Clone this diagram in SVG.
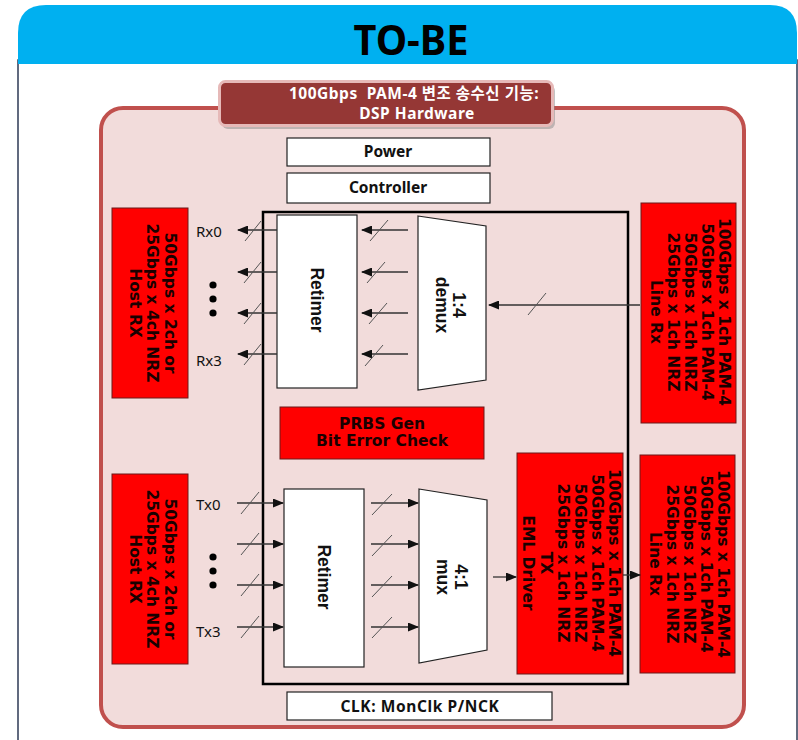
<svg xmlns="http://www.w3.org/2000/svg" width="798" height="740" viewBox="0 0 798 740">
<defs>
<marker id="ah" markerUnits="userSpaceOnUse" markerWidth="11" markerHeight="9" refX="10" refY="4.5" orient="auto">
<path d="M0,0 L11,4.5 L0,9 z" fill="#111"/>
</marker>
<style>
.ln{stroke:#333;stroke-width:1.3;fill:none;marker-end:url(#ah)}
.sl{stroke:#555;stroke-width:1;fill:none}
.red{fill:#ff0000;stroke:#6b1a1a;stroke-width:1}
.wb{fill:#fff;stroke:#222;stroke-width:1.2}
.rt{font-family:"DejaVu Sans",sans-serif;font-weight:bold;font-size:15.5px;fill:#1a0000;text-anchor:middle;dominant-baseline:central}
.ar{font-family:"Liberation Sans",Arial,sans-serif;font-weight:bold;font-size:17.5px;fill:#111;text-anchor:middle;dominant-baseline:central}
.lb{font-family:"Noto Sans",sans-serif;font-size:15px;fill:#111}
.bx{font-family:"Noto Sans",sans-serif;font-weight:bold;font-size:15.5px;fill:#111;text-anchor:middle}
.tt{font-family:"Noto Sans","Noto Sans CJK KR",sans-serif;font-weight:bold;font-size:15.5px;letter-spacing:0.5px;fill:#fff;text-anchor:middle}
</style>
</defs>
<g id="frame">
<rect x="18" y="60" width="779" height="690" fill="#fff" stroke="#2e3a55" stroke-width="1.5"/>
<path d="M18,64 L18,33 Q18,5 46,5 L770,5 Q797,5 797,33 L797,64 Z" fill="#00b0f0"/>
<text x="411" y="55" font-family="Noto Sans, sans-serif" font-weight="bold" font-size="42" fill="#000" text-anchor="middle" textLength="115" lengthAdjust="spacingAndGlyphs">TO-BE</text>
</g>
<g id="panel">
<rect x="101" y="108" width="643" height="619" rx="22" fill="#f2dcdb" stroke="#c0504d" stroke-width="4"/>
</g>
<g id="title">
<rect x="222" y="85" width="333" height="44" rx="6" fill="#8a8a8a" opacity="0.5"/>
<rect x="219.5" y="81.5" width="333" height="44" rx="6" fill="#953735" stroke="#e6b9b8" stroke-width="3"/>
<text class="tt" x="414" y="99" xml:space="preserve">100Gbps  PAM-4 변조 송수신 기능:</text>
<text class="tt" x="417" y="119">DSP Hardware</text>
</g>
<g id="power">
<rect class="wb" x="287" y="138" width="203" height="28"/>
<text class="bx" x="388" y="157">Power</text>
</g>
<g id="controller">
<rect class="wb" x="287" y="173" width="203" height="30"/>
<text class="bx" x="388" y="193">Controller</text>
</g>
<g id="dsp">
<rect x="263" y="212" width="365" height="472" fill="none" stroke="#000" stroke-width="2.5"/>
</g>
<g id="host-rx-top">
<rect class="red" x="112" y="208" width="76" height="190"/>
<text class="rt" font-size="16" transform="translate(152,303) rotate(90)"><tspan x="0" y="-18">50Gbps x 2ch or</tspan><tspan x="0" y="0">25Gbps x 4ch NRZ</tspan><tspan x="0" y="17">Host RX</tspan></text>
</g>
<g id="host-rx-bottom">
<rect class="red" x="112" y="474" width="76" height="190"/>
<text class="rt" font-size="16" transform="translate(152,569) rotate(90)"><tspan x="0" y="-18">50Gbps x 2ch or</tspan><tspan x="0" y="0">25Gbps x 4ch NRZ</tspan><tspan x="0" y="17">Host RX</tspan></text>
</g>
<g id="retimer-top">
<rect class="wb" x="277" y="215" width="80" height="173"/>
<text class="ar" transform="translate(317,300) rotate(90)">Retimer</text>
</g>
<g id="demux">
<path class="wb" d="M418,216 L486,226 L486,380 L418,390 Z"/>
<text class="ar" transform="translate(451,305) rotate(90)"><tspan x="0" y="-8">1:4</tspan><tspan x="0" y="9">demux</tspan></text>
</g>
<g id="line-rx-top">
<rect class="red" x="641" y="203" width="95" height="220"/>
<text class="rt" transform="translate(690,312) rotate(90)"><tspan x="0" y="-34">100Gbps x 1ch PAM-4</tspan><tspan x="0" y="-17">50Gbps x 1ch PAM-4</tspan><tspan x="0" y="0">50Gbps x 1ch NRZ</tspan><tspan x="0" y="17">25Gbps x 1ch NRZ</tspan><tspan x="0" y="34">Line Rx</tspan></text>
</g>
<g id="prbs">
<rect class="red" x="280" y="407" width="204" height="52"/>
<text class="rt" x="382" y="424">PRBS Gen</text>
<text class="rt" x="382" y="441">Bit Error Check</text>
</g>
<g id="retimer-bottom">
<rect class="wb" x="284" y="489" width="80" height="178"/>
<text class="ar" transform="translate(324,577) rotate(90)">Retimer</text>
</g>
<g id="mux">
<path class="wb" d="M419,489 L487,500 L487,650 L419,663 Z"/>
<text class="ar" transform="translate(452,577) rotate(90)"><tspan x="0" y="-9">4:1</tspan><tspan x="0" y="9">mux</tspan></text>
</g>
<g id="eml-driver">
<rect class="red" x="517" y="453" width="106" height="221"/>
<text class="rt" transform="translate(571,563) rotate(90)"><tspan x="0" y="-43">100Gbps x 1ch PAM-4</tspan><tspan x="0" y="-26">50Gbps x 1ch PAM-4</tspan><tspan x="0" y="-9">50Gbps x 1ch NRZ</tspan><tspan x="0" y="8">25Gbps x 1ch NRZ</tspan><tspan x="0" y="25">TX</tspan><tspan x="0" y="43">EML Driver</tspan></text>
</g>
<g id="line-rx-bottom">
<rect class="red" x="640" y="455" width="95" height="218"/>
<text class="rt" transform="translate(689,564) rotate(90)"><tspan x="0" y="-34">100Gbps x 1ch PAM-4</tspan><tspan x="0" y="-17">50Gbps x 1ch PAM-4</tspan><tspan x="0" y="0">50Gbps x 1ch NRZ</tspan><tspan x="0" y="17">25Gbps x 1ch NRZ</tspan><tspan x="0" y="34">Line Rx</tspan></text>
</g>
<g id="clk">
<rect class="wb" x="287" y="692" width="265" height="28"/>
<text class="bx" x="420" y="712" letter-spacing="0.6">CLK: MonClk P/NCK</text>
</g>
<g id="labels">
<text class="lb" x="196" y="237">Rx0</text>
<text class="lb" x="196" y="366">Rx3</text>
<text class="lb" x="196" y="510">Tx0</text>
<text class="lb" x="196" y="637">Tx3</text>
<circle cx="213" cy="285" r="3.6"/>
<circle cx="213" cy="299" r="3.6"/>
<circle cx="213" cy="313" r="3.6"/>
<circle cx="213" cy="557" r="3.6"/>
<circle cx="213" cy="571" r="3.6"/>
<circle cx="213" cy="585" r="3.6"/>
</g>
<g id="connectors">
<line class="ln" x1="277" y1="230" x2="238" y2="230"/>
<line class="ln" x1="277" y1="272" x2="238" y2="272"/>
<line class="ln" x1="277" y1="313" x2="238" y2="313"/>
<line class="ln" x1="277" y1="354" x2="238" y2="354"/>
<line class="sl" x1="245" y1="241" x2="261" y2="221"/>
<line class="sl" x1="244" y1="283" x2="261" y2="262"/>
<line class="sl" x1="244" y1="324" x2="261" y2="303"/>
<line class="sl" x1="244" y1="365" x2="261" y2="344"/>
<line class="ln" x1="408" y1="230" x2="362" y2="230"/>
<line class="ln" x1="408" y1="272" x2="362" y2="272"/>
<line class="ln" x1="408" y1="313" x2="362" y2="313"/>
<line class="ln" x1="408" y1="354" x2="362" y2="354"/>
<line class="sl" x1="370" y1="241" x2="388" y2="220"/>
<line class="sl" x1="367" y1="283" x2="385" y2="262"/>
<line class="sl" x1="369" y1="324" x2="387" y2="303"/>
<line class="sl" x1="365" y1="366" x2="383" y2="345"/>
<line class="ln" x1="640" y1="305" x2="489" y2="305"/>
<line class="sl" x1="528" y1="315" x2="546" y2="293"/>
<line class="ln" x1="237" y1="503" x2="283" y2="503"/>
<line class="ln" x1="237" y1="544" x2="283" y2="544"/>
<line class="ln" x1="237" y1="585" x2="283" y2="585"/>
<line class="ln" x1="237" y1="627" x2="283" y2="627"/>
<line class="sl" x1="241" y1="514" x2="259" y2="492"/>
<line class="sl" x1="241" y1="555" x2="259" y2="533"/>
<line class="sl" x1="241" y1="596" x2="259" y2="574"/>
<line class="sl" x1="241" y1="638" x2="259" y2="616"/>
<line class="ln" x1="371" y1="503" x2="418" y2="503"/>
<line class="ln" x1="371" y1="544" x2="418" y2="544"/>
<line class="ln" x1="371" y1="585" x2="418" y2="585"/>
<line class="ln" x1="371" y1="627" x2="418" y2="627"/>
<line class="sl" x1="372" y1="515" x2="392" y2="494"/>
<line class="sl" x1="372" y1="556" x2="392" y2="535"/>
<line class="sl" x1="372" y1="597" x2="392" y2="576"/>
<line class="sl" x1="372" y1="638" x2="392" y2="617"/>
<line class="ln" x1="493" y1="577" x2="516" y2="577"/>
<line class="ln" x1="623" y1="575" x2="640" y2="575"/>
</g>
</svg>
